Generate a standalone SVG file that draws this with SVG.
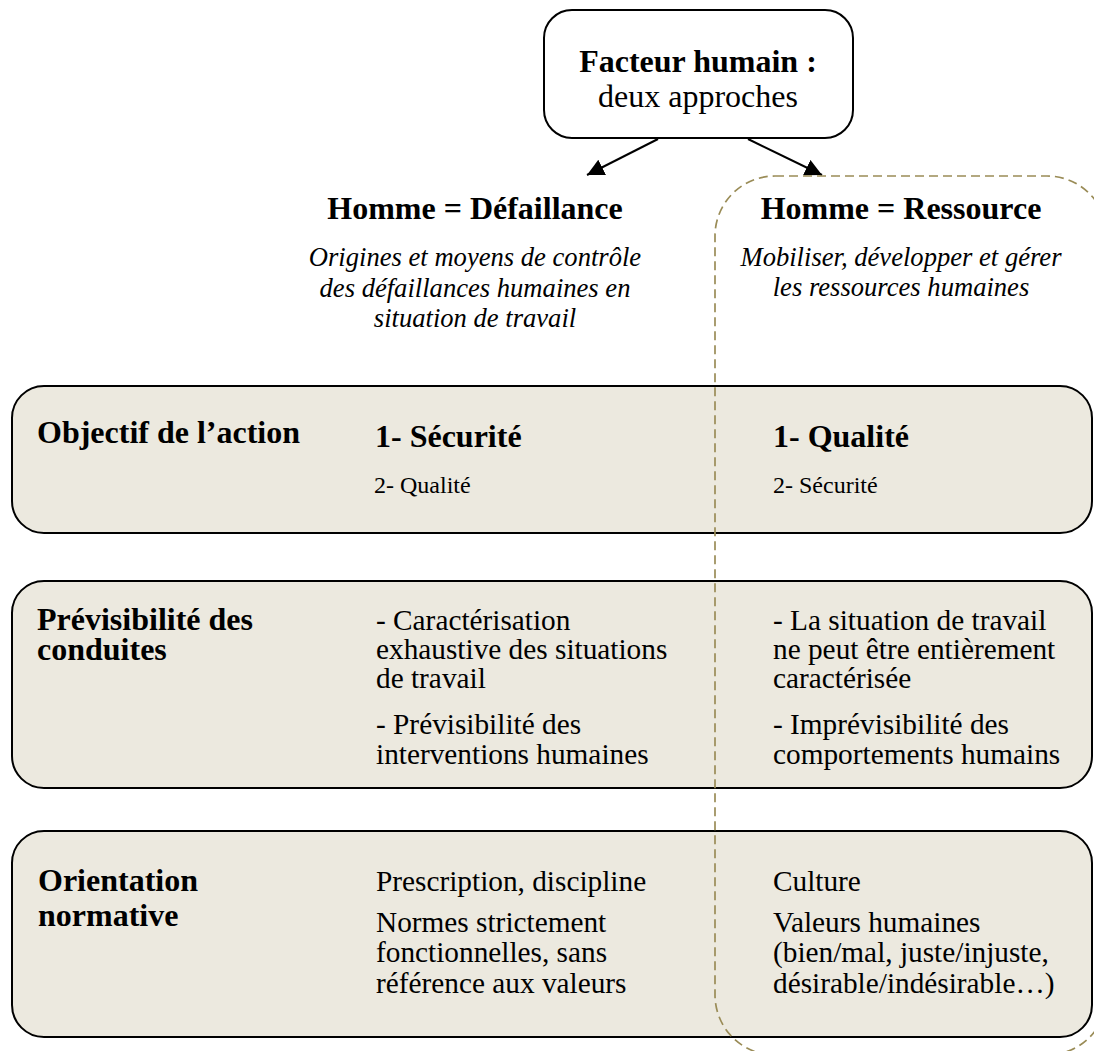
<svg xmlns="http://www.w3.org/2000/svg" width="1094" height="1051" viewBox="0 0 1094 1051">
<defs>
<style>
.t{font-family:"Liberation Serif","Times New Roman",serif;fill:#000}
.b{font-weight:bold;font-size:32px}
.r{font-size:29.3px}
.s{font-size:24px}
.i{font-style:italic;font-size:26.6px}
.h{font-size:32px}
.row{fill:#ECE9DF;stroke:#000;stroke-width:2}
.c{text-anchor:middle}
</style>
<marker id="ah" viewBox="0 0 10 10" refX="10" refY="5" markerWidth="17" markerHeight="17" markerUnits="userSpaceOnUse" orient="auto">
<path d="M0,0 L10,5 L0,10 z" fill="#000"/>
</marker>
</defs>
<rect width="1094" height="1051" fill="#fff"/>

<g id="root">
<rect x="544" y="10" width="309" height="128" rx="28" fill="#fff" stroke="#000" stroke-width="2"/>
<text class="t b c" x="698" y="72">Facteur humain :</text>
<text class="t h c" x="698" y="107">deux approches</text>
</g>

<g id="connectors" stroke="#000" stroke-width="2" fill="none">
<line x1="658" y1="139" x2="587" y2="175" marker-end="url(#ah)"/>
<line x1="748" y1="139" x2="822" y2="175" marker-end="url(#ah)"/>
</g>

<g id="defaillance">
<text class="t b c" x="475" y="219">Homme = Défaillance</text>
<text class="t i c" x="475" y="266">Origines et moyens de contrôle</text>
<text class="t i c" x="475" y="297">des défaillances humaines en</text>
<text class="t i c" x="475" y="327">situation de travail</text>
</g>

<g id="ressource">
<text class="t b c" x="901" y="219">Homme = Ressource</text>
<text class="t i c" x="901" y="266">Mobiliser, développer et gérer</text>
<text class="t i c" x="901" y="296">les ressources humaines</text>
</g>

<g id="row-objectif">
<rect class="row" x="12" y="386" width="1080" height="147" rx="32"/>
<text class="t b" x="37" y="443">Objectif de l’action</text>
<text class="t b" x="375" y="447">1- Sécurité</text>
<text class="t s" x="374" y="493">2- Qualité</text>
<text class="t b" x="773" y="447">1- Qualité</text>
<text class="t s" x="773" y="493">2- Sécurité</text>
</g>

<g id="row-previsibilite">
<rect class="row" x="12" y="581" width="1080" height="207" rx="32"/>
<text class="t b" x="37" y="630">Prévisibilité des</text>
<text class="t b" x="37" y="660">conduites</text>
<text class="t r" x="376" y="630">- Caractérisation</text>
<text class="t r" x="376" y="659">exhaustive des situations</text>
<text class="t r" x="376" y="688">de travail</text>
<text class="t r" x="376" y="734">- Prévisibilité des</text>
<text class="t r" x="376" y="764">interventions humaines</text>
<text class="t r" x="773" y="630">- La situation de travail</text>
<text class="t r" x="773" y="659">ne peut être entièrement</text>
<text class="t r" x="773" y="688">caractérisée</text>
<text class="t r" x="773" y="734">- Imprévisibilité des</text>
<text class="t r" x="773" y="764">comportements humains</text>
</g>

<g id="row-orientation">
<rect class="row" x="12" y="831" width="1080" height="206" rx="32"/>
<text class="t b" x="38" y="891">Orientation</text>
<text class="t b" x="38" y="926">normative</text>
<text class="t r" x="376" y="891">Prescription, discipline</text>
<text class="t r" x="376" y="932">Normes strictement</text>
<text class="t r" x="376" y="962">fonctionnelles, sans</text>
<text class="t r" x="376" y="993">référence aux valeurs</text>
<text class="t r" x="773" y="891">Culture</text>
<text class="t r" x="773" y="932">Valeurs humaines</text>
<text class="t r" x="773" y="962">(bien/mal, juste/injuste,</text>
<text class="t r" x="773" y="993">désirable/indésirable…)</text>
</g>

<g id="ressource-frame">
<rect x="715" y="176" width="392" height="879" rx="60" fill="none" stroke="#9A8C57" stroke-width="1.7" stroke-dasharray="9 5"/>
</g>
</svg>
